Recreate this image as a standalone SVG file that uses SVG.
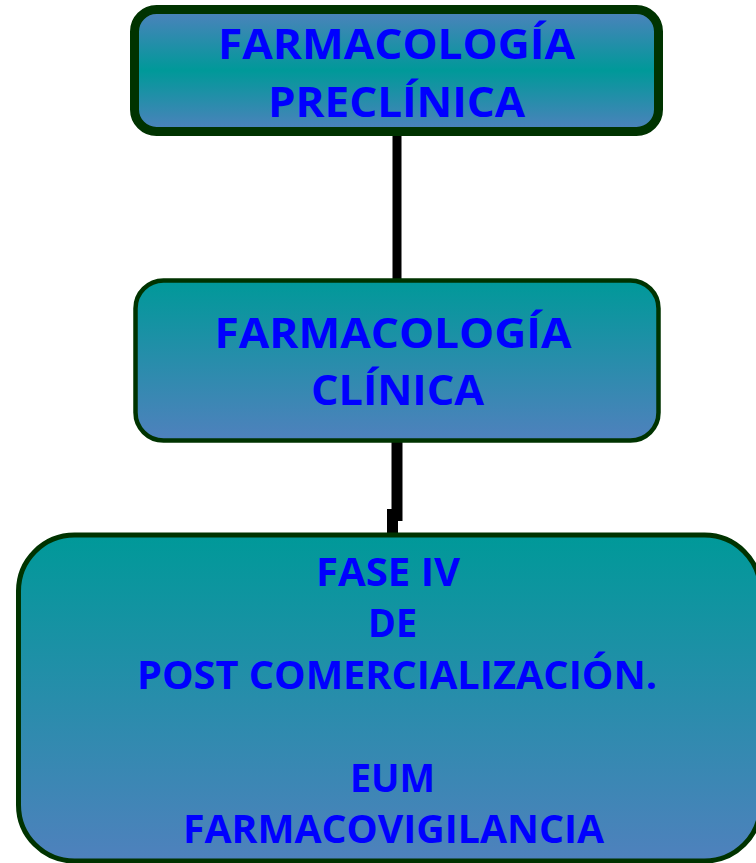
<svg xmlns="http://www.w3.org/2000/svg" width="756" height="863" viewBox="0 0 756 863">
<defs>
<linearGradient id="g3" x1="0" y1="0" x2="0" y2="1">
<stop offset="0" stop-color="#4f81bd"/>
<stop offset="0.5" stop-color="#009999"/>
<stop offset="1" stop-color="#4f81bd"/>
</linearGradient>
<linearGradient id="g2" x1="0" y1="0" x2="0" y2="1">
<stop offset="0" stop-color="#009999"/>
<stop offset="1" stop-color="#4f81bd"/>
</linearGradient>
</defs>
<style>
.box{stroke:#003300;stroke-linejoin:round}
.t{font-family:"Open Sans","Noto Sans","Liberation Sans",sans-serif;font-weight:bold;fill:#0000ff;text-anchor:middle}
.big{font-size:42px}
.sm{font-size:39px}
.con{stroke:#000000;fill:none}
</style>
<g id="connectors">
<line class="con" x1="397" y1="131" x2="397" y2="281" stroke-width="9"/>
<line class="con" x1="397" y1="441" x2="397" y2="521" stroke-width="11"/>
<line class="con" x1="392.5" y1="509" x2="392.5" y2="535" stroke-width="11"/>
</g>
<g id="node-preclinica">
<rect class="box" x="134.5" y="9.5" width="524" height="122" rx="22" fill="url(#g3)" stroke-width="9"/>
<text class="t big" x="396.5" y="58.5" textLength="357" lengthAdjust="spacingAndGlyphs">FARMACOLOGÍA</text>
<text class="t big" x="396.5" y="116.5" textLength="257" lengthAdjust="spacingAndGlyphs">PRECLÍNICA</text>
</g>
<g id="node-clinica">
<rect class="box" x="135.5" y="280.5" width="523" height="160" rx="28" fill="url(#g2)" stroke-width="4.5"/>
<text class="t big" x="393" y="348" textLength="357" lengthAdjust="spacingAndGlyphs">FARMACOLOGÍA</text>
<text class="t big" x="397.5" y="405" textLength="173" lengthAdjust="spacingAndGlyphs">CLÍNICA</text>
</g>
<g id="node-fase4">
<rect class="box" x="18.5" y="535" width="742" height="326" rx="56" fill="url(#g2)" stroke-width="5"/>
<text class="t sm" x="388" y="586" textLength="144" lengthAdjust="spacingAndGlyphs">FASE IV</text>
<text class="t sm" x="392.5" y="637" textLength="49" lengthAdjust="spacingAndGlyphs">DE</text>
<text class="t sm" x="397" y="689" textLength="520" lengthAdjust="spacingAndGlyphs">POST COMERCIALIZACIÓN.</text>
<text class="t sm" x="392.5" y="792" textLength="85" lengthAdjust="spacingAndGlyphs">EUM</text>
<text class="t sm" x="393.5" y="843" textLength="421" lengthAdjust="spacingAndGlyphs">FARMACOVIGILANCIA</text>
</g>
</svg>
